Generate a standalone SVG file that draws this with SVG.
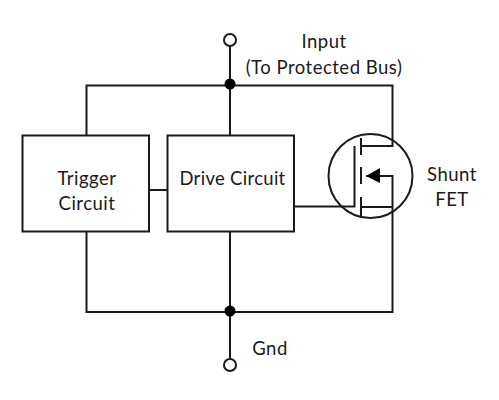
<svg xmlns="http://www.w3.org/2000/svg" width="499" height="400" viewBox="0 0 499 400">
<style>
.w{fill:none;stroke:#1a1a1a;stroke-width:2}
.n{fill:#fff;stroke:#1a1a1a;stroke-width:2}
.d{fill:#000;stroke:none}
text{font-family:Lato,"Liberation Sans",sans-serif;font-size:18.500px;letter-spacing:0.500px;fill:#1a1a1a;text-anchor:middle}
</style>
<rect width="499" height="400" fill="#fff"/>
<g id="connectors">
<path class="w" d="M230 46V135M86.500 135V85.500H392.500V146H361M230 231V359M86.500 231V312H392.500V176H366M149 190H167.500M294 206.500H354.500V146M361 207H392.500"/>
<circle class="d" cx="230" cy="84" r="5.500"/>
<circle class="d" cx="230" cy="311" r="5.500"/>
</g>
<g id="input"><circle class="n" cx="230" cy="40" r="6"/><text x="324" y="48">Input</text><text x="324" y="74">(To Protected Bus)</text></g>
<g id="gnd"><circle class="n" cx="230" cy="365" r="6"/><text x="270" y="355">Gnd</text></g>
<g id="trigger"><rect class="n" x="22.500" y="135.500" width="126.500" height="96"/><text x="87" y="185">Trigger</text><text x="87" y="210">Circuit</text></g>
<g id="drive"><rect class="n" x="167.500" y="135.500" width="126.500" height="96"/><text x="232.500" y="185" style="letter-spacing:0.300px">Drive Circuit</text></g>
<g id="fet">
<circle class="w" cx="370.500" cy="176" r="42"/>
<path class="w" d="M361 138V155M361 167V184M361 197V216"/>
<path class="d" d="M366 176L380 168V183Z"/>
<text x="452" y="181">Shunt</text><text x="452" y="206">FET</text>
</g>
</svg>
